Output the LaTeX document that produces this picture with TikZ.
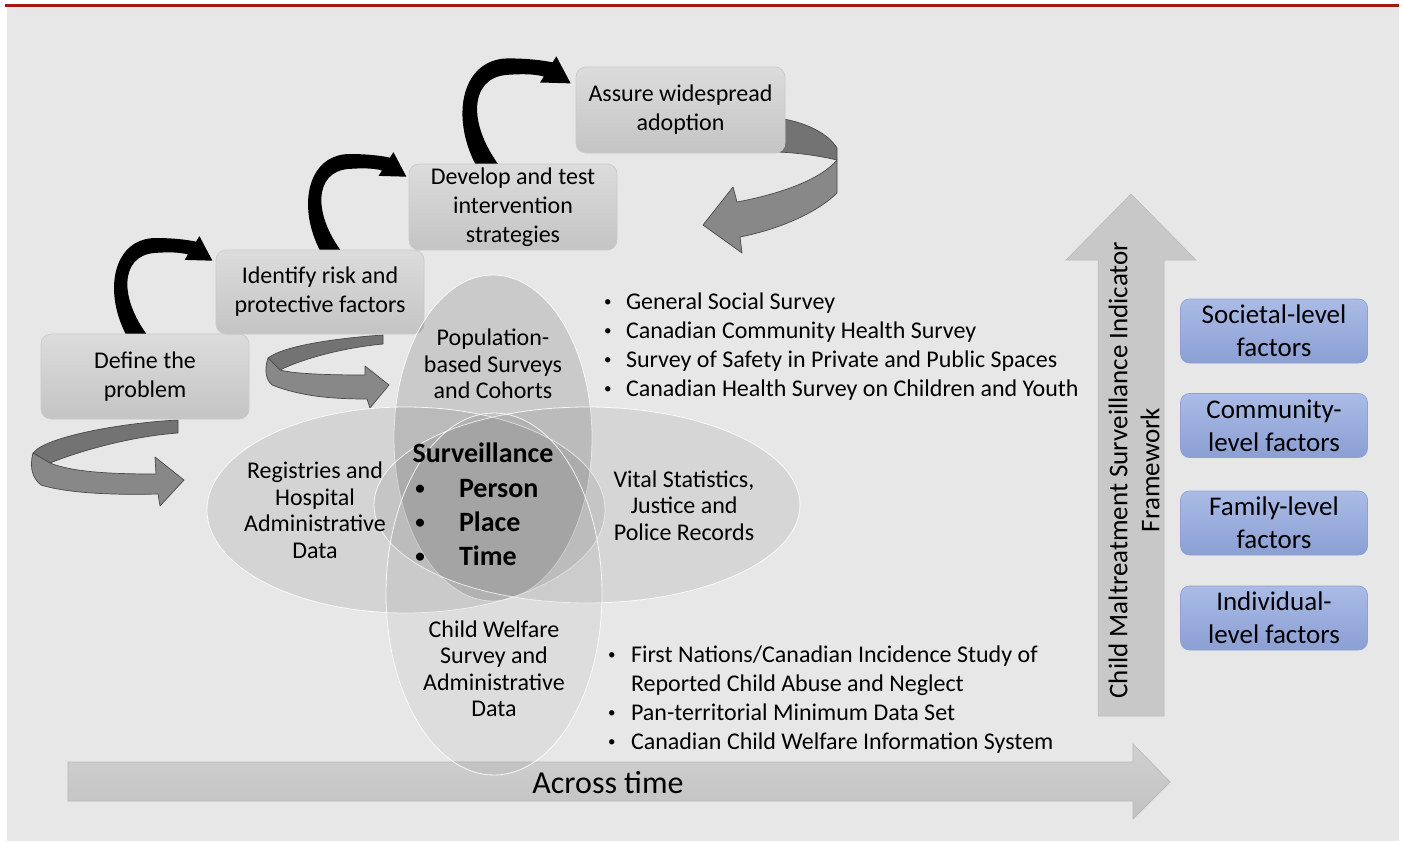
\documentclass[tikz,border=0pt]{standalone}
\usepackage{fontspec}
\setmainfont{Carlito}
\usetikzlibrary{shapes.geometric}

\definecolor{panel}{HTML}{E6E7E6}
\definecolor{rulered}{HTML}{9E1A12}
\definecolor{stepTop}{HTML}{DCDCDC}
\definecolor{stepBot}{HTML}{C4C4C4}
\definecolor{stepEdge}{HTML}{CACACA}
\definecolor{facTop}{HTML}{AABBE5}
\definecolor{facBot}{HTML}{8B9FD4}
\definecolor{facEdge}{HTML}{8EA1D4}
\definecolor{ribbonFront}{HTML}{888888}
\definecolor{ribbonBack}{HTML}{737373}
\definecolor{ribbonEdge}{HTML}{4A4A4A}
\definecolor{arrowTop}{HTML}{D0D0D0}
\definecolor{arrowBot}{HTML}{C2C2C2}
\definecolor{arrowEdge}{HTML}{B8B8B8}
\definecolor{upFill}{HTML}{C8C8C8}

\pgfdeclarelayer{backdrop}
\pgfdeclarelayer{under}
\pgfsetlayers{backdrop,under,main}

% small list bullets
\newcommand{\lbul}{\raisebox{2.2pt}{\fontsize{15}{15}\selectfont •}}
\newcommand{\sbul}{\raisebox{2.6pt}{\fontsize{19}{19}\selectfont\bfseries •}}

\tikzset{
  hookarrow/.pic={
    \fill[black] (-11,6) .. controls (-38,-40) and (-28,-95) .. (15,-96)
      .. controls (35,-96) and (48,-94) .. (56,-92.4)
      -- (59.4,-97.9) -- (72.4,-73.3) -- (44.6,-74.1) -- (48,-79.6)
      .. controls (38,-82) and (28,-82) .. (14,-81)
      .. controls (-20,-78) and (-22,-35) .. (11,6) -- cycle;
  },
  stepbox/.style={draw=stepEdge, line width=0.7, rounded corners=10,
    top color=stepTop, bottom color=stepBot, minimum width=208,
    minimum height=85, align=center, font=\fontsize{24}{29}\selectfont,
    execute at begin node={\rule{0pt}{23pt}}},
  factorbox/.style={draw=facEdge, line width=0.7, rounded corners=9,
    top color=facTop, bottom color=facBot, minimum width=187,
    minimum height=64, align=center, font=\fontsize{27}{33}\selectfont},
  venn/.style={ellipse, draw=white, line width=0.8, draw opacity=0.85,
    fill=black},
  vennlabel/.style={align=center, font=\fontsize{24}{26.5}\selectfont},
  listitem/.style={anchor=base west, font=\fontsize{24}{29}\selectfont},
  survitem/.style={anchor=base west, font=\fontsize{28}{34}\selectfont\bfseries},
  survbullet/.style={anchor=base, font=\fontsize{28}{34}\selectfont\bfseries},
  ribbonback/.style={fill=ribbonBack, draw=ribbonEdge, line width=0.7, line join=round},
  ribbonfront/.style={fill=ribbonFront, draw=ribbonEdge, line width=0.7, line join=round},
  timearrow/.style={top color=arrowTop, bottom color=arrowBot, draw=arrowEdge, line width=0.7},
  uparrow/.style={fill=upFill, draw=arrowEdge, line width=0.5},
}

\begin{document}
\begin{tikzpicture}[x=1pt, y=-1pt, every node/.style={inner sep=0pt, outer sep=0pt}]
\useasboundingbox (0,0) rectangle (1403,841);

\begin{pgfonlayer}{backdrop}
  \fill[white] (0,0) rectangle (1403,841);
  \fill[panel] (7,7) rectangle (1399,841);
  \draw[rulered, line width=3] (5,5.5) -- (1399,5.5);
\end{pgfonlayer}

% the four steps of the public health approach
\node[stepbox] (def) at (145,376.5) {Define the\\problem};
\node[stepbox, minimum height=84] (idf) at (320,292) {Identify risk and\\protective factors};
\node[stepbox, minimum height=86] (dev) at (513,207) {Develop and test\\intervention\\strategies};
\node[stepbox, minimum width=209, minimum height=86] (asr) at (680.5,110) {Assure widespread\\adoption};

% black hooked arrows climbing from step to step
\begin{pgfonlayer}{under}
  \path (def.north) ++(-5,0) pic {hookarrow};
  \path (idf.north) ++(14,0) pic {hookarrow};
  \path (dev.north) ++(-22,0) pic[scale=1.1] {hookarrow};

  % grey twisted ribbon arrows
  \path[ribbonback] (178,420) .. controls (120,423) and (45,437) .. (33,453)
    -- (50,463) .. controls (85,449) and (135,436) .. (178,433) -- cycle;
  \path[ribbonfront] (33,453) .. controls (29,468) and (33,479) .. (41,485)
    .. controls (70,494) and (120,495) .. (158,494) -- (160,506) -- (184,480)
    -- (155,457) -- (156,474) .. controls (110,474) and (72,472) .. (50,463) -- cycle;

  \path[ribbonback] (383,335) .. controls (340,338) and (285,345) .. (268,358)
    -- (280,370) .. controls (300,360) and (340,348) .. (383,344) -- cycle;
  \path[ribbonfront] (268,358) .. controls (264,370) and (266,380) .. (272,385)
    .. controls (300,396) and (330,399) .. (367,399) -- (370,408) -- (389,385)
    -- (365,366) -- (365,375) .. controls (330,375) and (295,374) .. (280,370) -- cycle;

  \path[ribbonback] (778,118) .. controls (805,122) and (828,133) .. (837,148)
    -- (837,160) .. controls (820,156) and (800,153) .. (778,152) -- cycle;
  \path[ribbonfront] (837,160) -- (837,193) .. controls (820,210) and (785,228) .. (740,237)
    -- (742,253) -- (703,225) -- (733,187) -- (737,202)
    .. controls (785,193) and (822,178) .. (837,160) -- cycle;
\end{pgfonlayer}

% time axis
\path[timearrow] (68,762) -- (1133,762) -- (1133,744) -- (1170,782)
  -- (1133,819) -- (1133,801) -- (68,801) -- cycle;

% overlapping data sources
\node[venn, fill opacity=0.12, minimum width=198, minimum height=326] (pop) at (493,438) {};
\node[venn, fill opacity=0.08, minimum width=398, minimum height=206] (reg) at (406,510) {};
\node[venn, fill opacity=0.07, minimum width=426, minimum height=196] (vit) at (587,505) {};
\node[venn, fill opacity=0.045, minimum width=216, minimum height=362] (cwf) at (494,594) {};

\node[vennlabel] (popl) at (493,364) {Population-\\based Surveys\\and Cohorts};
\node[vennlabel] (regl) at (315,510) {Registries and\\Hospital\\Administrative\\Data};
\node[vennlabel] (vitl) at (684,505.5) {Vital Statistics,\\Justice and\\Police Records};
\node[vennlabel] (cwfl) at (494,668.5) {Child Welfare\\Survey and\\Administrative\\Data};

\node[anchor=base, font=\fontsize{28}{34}\selectfont\bfseries] (surv) at (483,462) {Surveillance};
\node[survbullet] (sb1) at (420,497) {\sbul};
\node[survitem] (sp1) at (459,497) {Person};
\node[survbullet] (sb2) at (420,531) {\sbul};
\node[survitem] (sp2) at (459,531) {Place};
\node[survbullet] (sb3) at (420,565) {\sbul};
\node[survitem] (sp3) at (459,565) {Time};

% survey lists
\node[listitem] (ga) at (604,309) {\makebox[22pt][l]{\lbul}General Social Survey};
\node[listitem] (gb) at (604,338) {\makebox[22pt][l]{\lbul}Canadian Community Health Survey};
\node[listitem] (gc) at (604,367) {\makebox[22pt][l]{\lbul}Survey of Safety in Private and Public Spaces};
\node[listitem] (gd) at (604,396) {\makebox[22pt][l]{\lbul}Canadian Health Survey on Children and Youth};

\node[listitem] (wa) at (608,662) {\makebox[23pt][l]{\lbul}First Nations/Canadian Incidence Study of};
\node[listitem] (wb) at (631,691) {Reported Child Abuse and Neglect};
\node[listitem] (wc) at (608,720) {\makebox[23pt][l]{\lbul}Pan-territorial Minimum Data Set};
\node[listitem] (wd) at (608,749) {\makebox[23pt][l]{\lbul}Canadian Child Welfare Information System};

\node[font=\fontsize{32}{38}\selectfont] (time) at (608,783) {Across time};

% ecological framework
\path[uparrow] (1098,716) -- (1098,260) -- (1066,260) -- (1131,194)
  -- (1196,260) -- (1164,260) -- (1164,716) -- cycle;
\node[rotate=90, align=center, font=\fontsize{27}{32}\selectfont] (cmsif) at (1134,470)
  {Child Maltreatment Surveillance Indicator\\Framework};

\node[factorbox] (soc) at (1274,331) {Societal-level\\factors};
\node[factorbox] (com) at (1274,425.5) {Community-\\level factors};
\node[factorbox] (fam) at (1274,523) {Family-level\\factors};
\node[factorbox] (ind) at (1274,618) {Individual-\\level factors};

\end{tikzpicture}
\end{document}
